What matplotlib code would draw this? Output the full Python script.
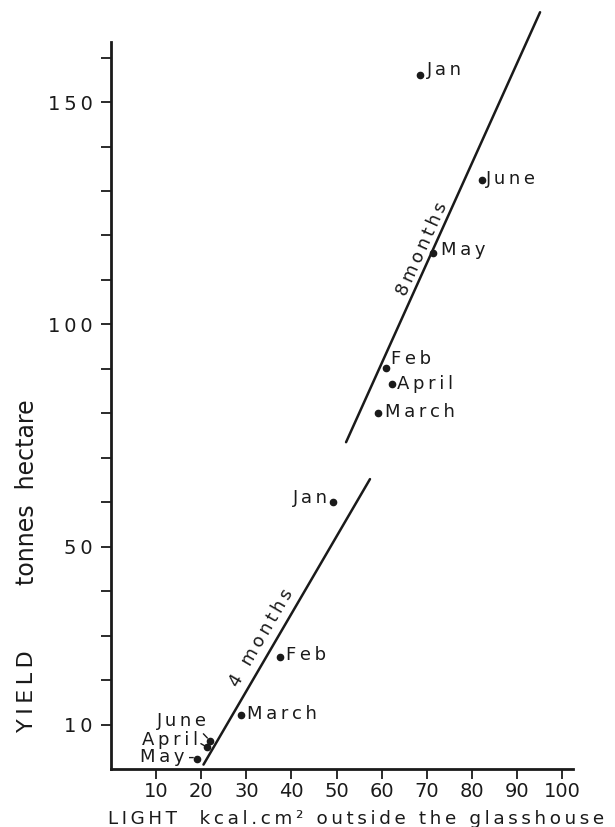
import numpy as np
import matplotlib.pyplot as plt

# monthly light (kcal.cm^2 outside the glasshouse) vs yield (tonnes/hectare)
upper_months = ['Jan', 'June', 'May', 'Feb', 'April', 'March']
upper_light = [68.5, 82.3, 71.4, 61.0, 62.3, 59.2]
upper_yield = [156.1, 132.4, 116.0, 90.2, 86.6, 80.1]

lower_months = ['Jan', 'Feb', 'March', 'June', 'April', 'May']
lower_light = [49.2, 37.5, 28.8, 22.0, 21.3, 19.1]
lower_yield = [60.0, 25.2, 12.1, 6.3, 4.9, 2.2]

# hand-fitted lines for the two crop lengths
line_8m_light = [52.1, 95.1]
line_8m_yield = [73.5, 170.2]
line_4m_light = [20.5, 57.4]
line_4m_yield = [1.0, 65.2]

x_ticks = list(range(10, 101, 10))
y_ticks = list(range(10, 161, 10))
y_labelled = [10, 50, 100, 150]

INK = '#1a1a1a'


def spaced(s):
    # wide hand lettering: pad every character with a thin space
    return '\u2009'.join(s)


fig = plt.figure(figsize=(6.15, 8.27), dpi=100)
ax = fig.add_axes([0.1805, 0.0701, 0.7512, 0.8791])

ax.set_xlim(0, 102.4)
ax.set_ylim(0, 163.5)

for side in ['top', 'right']:
    ax.spines[side].set_visible(False)
for side in ['left', 'bottom']:
    ax.spines[side].set_linewidth(2.0)
    ax.spines[side].set_color(INK)

ax.set_xticks(x_ticks)
ax.set_xticklabels([str(v) for v in x_ticks])
ax.set_yticks(y_ticks)
ax.set_yticklabels([spaced(str(v)) if v in y_labelled else '' for v in y_ticks])
ax.tick_params(direction='out', length=7, width=1.3, labelsize=14, colors=INK)
ax.tick_params(axis='x', pad=2.5)
ax.tick_params(axis='y', pad=6)

# fitted lines
ax.plot(line_8m_light, line_8m_yield, color=INK, lw=1.8, clip_on=False,
        solid_capstyle='round')
ax.plot(line_4m_light, line_4m_yield, color=INK, lw=1.8, clip_on=False,
        solid_capstyle='round')

# monthly points
ax.plot(upper_light, upper_yield, 'o', color=INK, ms=4.5, clip_on=False)
ax.plot(lower_light, lower_yield, 'o', color=INK, ms=4.5, clip_on=False)

lab = dict(fontsize=13, color=INK, textcoords='offset pixels')

# 8 month crop labels (offsets in pixels, text placed to the right)
upper_offsets = [(7, 5), (4, 1), (8, 3), (5, 9), (5, 0), (7, 1)]
for m, x, y, off in zip(upper_months, upper_light, upper_yield, upper_offsets):
    ax.annotate(spaced(m), (x, y), xytext=off, ha='left', va='center', **lab)

# 4 month crop labels
ax.annotate(spaced('Jan'), (lower_light[0], lower_yield[0]), xytext=(-5, 4),
            ha='right', va='center', **lab)
ax.annotate(spaced('Feb'), (lower_light[1], lower_yield[1]), xytext=(6, 2),
            ha='left', va='center', **lab)
ax.annotate(spaced('March'), (lower_light[2], lower_yield[2]), xytext=(6, 1),
            ha='left', va='center', **lab)
ax.annotate(spaced('June'), (lower_light[3], lower_yield[3]), xytext=(-28, 20),
            ha='center', va='center',
            arrowprops=dict(arrowstyle='-', lw=1.0, color=INK,
                            relpos=(0.85, 0.0), shrinkA=1, shrinkB=3), **lab)
ax.annotate(spaced('April'), (lower_light[4], lower_yield[4]), xytext=(-9, 7),
            ha='right', va='center',
            arrowprops=dict(arrowstyle='-', lw=1.0, color=INK,
                            relpos=(1.0, 0.4), shrinkA=0, shrinkB=2), **lab)
ax.annotate(spaced('May-'), (lower_light[5], lower_yield[5]), xytext=(-3, 2),
            ha='right', va='center', **lab)

# line captions, rotated along each line
s8 = np.degrees(np.arctan2(line_8m_yield[1] - line_8m_yield[0],
                           line_8m_light[1] - line_8m_light[0]))
s4 = np.degrees(np.arctan2(line_4m_yield[1] - line_4m_yield[0],
                           line_4m_light[1] - line_4m_light[0]))
ax.text(69.0, 117.0, spaced('8months'), rotation=s8, transform_rotates_text=True,
        ha='center', va='center', rotation_mode='anchor', fontsize=13, color=INK)
ax.text(33.4, 29.5, spaced('4 months'), rotation=s4, transform_rotates_text=True,
        ha='center', va='center', rotation_mode='anchor', fontsize=13, color=INK)

# axis titles
fig.text(108 / 615, 1 - 824 / 827, spaced('LIGHT  kcal.cm² outside the glasshouse'),
         ha='left', va='baseline', fontsize=13.2, color=INK)
fig.text(27 / 615, 1 - 691 / 827, spaced('YIELD'), rotation=90,
         ha='center', va='center', fontsize=16, color=INK)
fig.text(27 / 615, 1 - 492 / 827, 'tonnes  hectare', rotation=90,
         ha='center', va='center', fontsize=17, color=INK)

fig.savefig('out.png', dpi=100)
